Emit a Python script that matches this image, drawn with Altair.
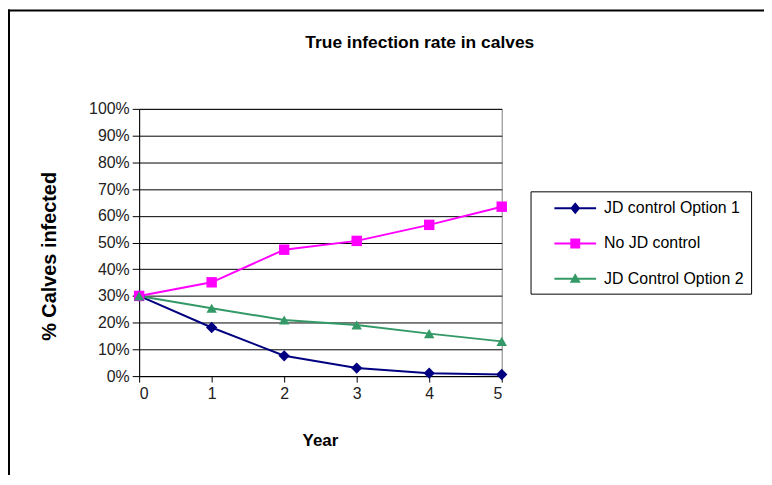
import altair as alt
import pandas as pd

years = [0, 1, 2, 3, 4, 5]
series_names = ["JD control Option 1", "No JD control", "JD Control Option 2"]
opt1 = [30.0, 18.2, 7.6, 3.0, 1.1, 0.6]
no_control = [30.0, 35.1, 47.3, 50.6, 56.6, 63.4]
opt2 = [30.0, 25.4, 21.0, 19.1, 15.9, 13.0]
colors = ["#000080", "#FF00FF", "#339966"]
marker_shapes = ["diamond", "square", "triangle-up"]
marker_sizes = [130, 110, 110]
y_ticks = [i / 10 for i in range(11)]

rows = []
for name, vals in zip(series_names, [opt1, no_control, opt2]):
    for yr, v in zip(years, vals):
        rows.append({"year": yr, "value": v / 100.0, "series": name})
df = pd.DataFrame(rows)

FONT = "Liberation Sans"

# legend symbols: line segment plus marker (unit = 10px at symbol size 400)
bar = "M-2.1,-0.1L2.1,-0.1L2.1,0.1L-2.1,0.1Z "
legend_paths = [
    bar + "M0,-0.6L0.5,0L0,0.6L-0.5,0Z",
    bar + "M-0.5,-0.5L0.5,-0.5L0.5,0.5L-0.5,0.5Z",
    bar + "M0,-0.55L0.55,0.4L-0.55,0.4Z",
]
legend_domain = [n + "\u00a0" * 5 for n in series_names]

x_enc = alt.X(
    "year:Q",
    scale=alt.Scale(domain=[0, 5], nice=False),
    axis=alt.Axis(
        values=years, format="d", grid=False, tickSize=6, labelPadding=4,
        title="Year", titleX=182, titleY=65, titleBaseline="middle",
        titleFontSize=17,
    ),
)
y_enc = alt.Y(
    "value:Q",
    scale=alt.Scale(domain=[0, 1], nice=False),
    axis=alt.Axis(
        values=y_ticks, format=".0%", grid=True, tickSize=7, labelPadding=3,
        title="% Calves infected", titleX=-90, titleY=148, titleAngle=-90,
        titleAlign="center", titleBaseline="middle", titleFontSize=20,
    ),
)

base = alt.Chart(df)

series_layers = []
for name, col in zip(series_names, colors):
    sub = base.transform_filter(alt.datum.series == name)
    series_layers.append(
        sub.mark_line(strokeWidth=2, color=col).encode(x=x_enc, y=y_enc)
    )
for name, col, shp, sz in zip(series_names, colors, marker_shapes, marker_sizes):
    sub = base.transform_filter(alt.datum.series == name)
    series_layers.append(
        sub.mark_point(filled=True, shape=shp, size=sz, opacity=1, color=col)
        .encode(x=x_enc, y=y_enc)
    )

legend_layer = (
    base.transform_filter("false")
    .mark_point(filled=True, opacity=1, size=400)
    .encode(
        x=x_enc, y=y_enc,
        color=alt.Color("series:N", scale=alt.Scale(domain=legend_domain, range=colors),
                        title=None),
        shape=alt.Shape(
            "series:N",
            scale=alt.Scale(domain=legend_domain, range=legend_paths),
            title=None,
        ),
    )
)

frame_df = pd.DataFrame({"k": [0]})
frame_v = alt.Chart(frame_df).mark_rule(color="black", strokeWidth=2).encode(
    x=alt.value(-131), y=alt.value(-100), y2=alt.value(380)
)
frame_h = alt.Chart(frame_df).mark_rule(color="black", strokeWidth=2).encode(
    x=alt.value(-132), x2=alt.value(640), y=alt.value(-99)
)

chart = (
    alt.layer(*series_layers, legend_layer, frame_v, frame_h)
    .properties(
        width=365,
        height=269,
        autosize=alt.AutoSizeParams(type="none"),
        padding={"left": 132, "top": 100, "right": 264, "bottom": 98},
        title=alt.TitleParams(
            "True infection rate in calves",
            font=FONT, fontSize=17.5, fontWeight="bold", color="black",
            anchor="middle", frame="group", dx=100, offset=-52,
            baseline="middle",
        ),
    )
    .configure_view(stroke="#808080", strokeWidth=1)
    .configure_axis(
        domainColor="black", domainWidth=1, tickColor="black", tickWidth=1,
        gridColor="black", gridWidth=1, gridOpacity=1,
        labelFont=FONT, labelFontSize=16, labelColor="#222222",
        titleFont=FONT, titleFontWeight="bold", titleColor="black",
    )
    .configure_legend(
        orient="none", legendX=394, legendY=83,
        strokeColor="black", padding=7, fillColor="white",
        symbolSize=400, symbolStrokeWidth=0, symbolOffset=28,
        labelOffset=19, labelFont=FONT, labelFontSize=16, labelColor="black",
        rowPadding=17.5, labelLimit=300,
    )
)

chart.save("out.html", embed_options={"renderer": "svg", "actions": False})
